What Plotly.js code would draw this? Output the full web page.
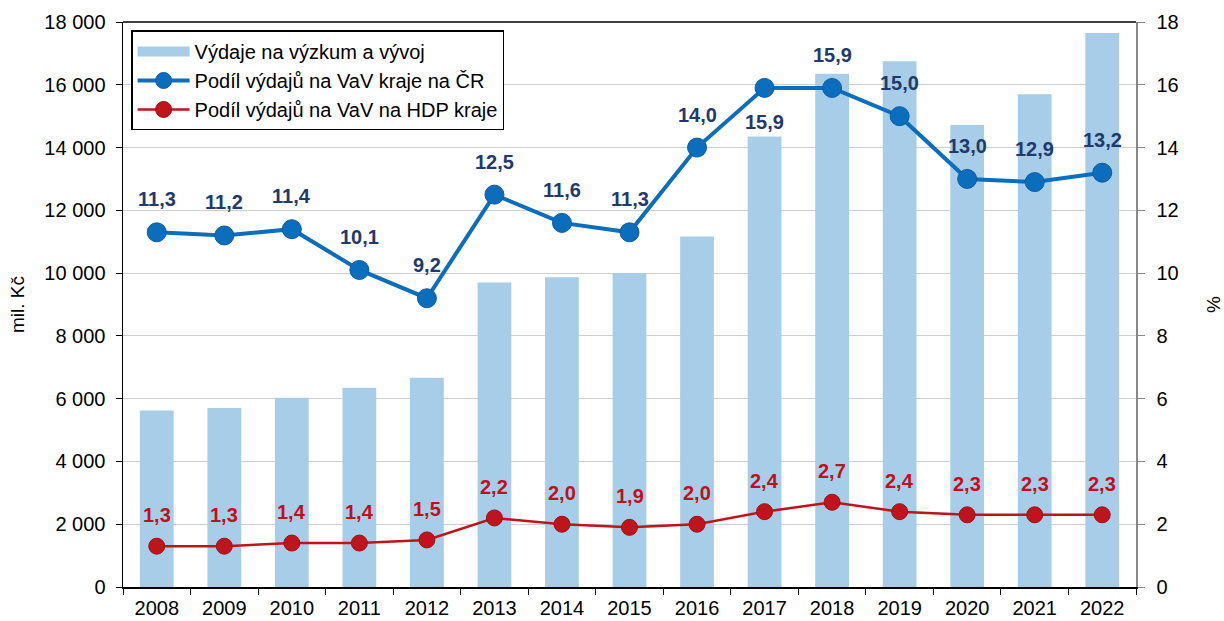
<!DOCTYPE html>
<html><head><meta charset="utf-8">
<script src="https://cdn.plot.ly/plotly-3.0.1.min.js"></script>
<style>body{margin:0}#c{width:1224px;height:621px}</style>
</head><body><div id="c"></div>
<script>
const years = ['2008','2009','2010','2011','2012','2013','2014','2015','2016','2017','2018','2019','2020','2021','2022'];
const spending = [5620,5700,6030,6350,6670,9700,9870,10000,11170,14350,16350,16750,14720,15700,17650];
const shareCR = [11.3,11.2,11.4,10.1,9.2,12.5,11.6,11.3,14.0,15.9,15.9,15.0,13.0,12.9,13.2];
const shareGDP = [1.3,1.3,1.4,1.4,1.5,2.2,2.0,1.9,2.0,2.4,2.7,2.4,2.3,2.3,2.3];
const leftTicks = [0,2000,4000,6000,8000,10000,12000,14000,16000,18000];

const fmt = v => v.toFixed(1).replace('.', ',');
const font = 'Liberation Sans, Arial, sans-serif';
const barColor = '#A7CDE8';

const annotations = [];
years.forEach((y,i) => {
  const below = (y === '2017');
  annotations.push({x:i, y:shareCR[i], xref:'x', yref:'y2', text:'<b>'+fmt(shareCR[i])+'</b>',
    showarrow:false, yshift: below ? -34 : 33, font:{family:font, size:20, color:'#1F3A6B'}});
  annotations.push({x:i, y:shareGDP[i], xref:'x', yref:'y2', text:'<b>'+fmt(shareGDP[i])+'</b>',
    showarrow:false, yshift: 31, font:{family:font, size:20, color:'#C0101A'}});
});

const data = [
  {type:'bar', x:years, y:spending, name:'Výdaje na výzkum a vývoj', marker:{color:barColor}, width:0.5, yaxis:'y', showlegend:false},
  {type:'scatter', mode:'lines', x:[null], y:[null], name:'Výdaje na výzkum a vývoj', yaxis:'y',
    line:{color:barColor, width:10}, showlegend:true},
  {type:'scatter', mode:'lines+markers', x:years, y:shareCR, name:'Podíl výdajů na VaV kraje na ČR', yaxis:'y2',
    line:{color:'#0A6EBD', width:4}, marker:{color:'#0A6EBD', size:19, line:{color:'#0A5CA8', width:1}}},
  {type:'scatter', mode:'lines+markers', x:years, y:shareGDP, name:'Podíl výdajů na VaV na HDP kraje', yaxis:'y2',
    line:{color:'#C0141C', width:2.5}, marker:{color:'#C0141C', size:16, line:{color:'#A01018', width:1}}}
];

const layout = {
  width:1224, height:621,
  margin:{l:123, r:88, t:22, b:34},
  paper_bgcolor:'#fff', plot_bgcolor:'#fff',
  separators:', ',
  font:{family:font, size:20, color:'#000'},
  showlegend:true,
  legend:{x:0.008, y:0.985, xanchor:'left', yanchor:'top', bordercolor:'#000', borderwidth:1.5,
    bgcolor:'#fff', font:{family:font, size:20, color:'#000'}, itemwidth:52, tracegroupgap:0},
  xaxis:{type:'category', range:[-0.5,14.5], tickson:'boundaries', ticks:'outside', ticklen:6, tickcolor:'#000',
    showline:true, linecolor:'#000', linewidth:1.5, mirror:false, tickfont:{size:20}, tickangle:0,
    showgrid:false, zeroline:false, ticklabelstandoff:2},
  yaxis:{range:[0,18000], tickvals:leftTicks, tickformat:',d', ticks:'outside', ticklen:6, tickcolor:'#000',
    showline:true, linecolor:'#000', linewidth:1.5, showgrid:true, gridcolor:'#CFCFCF', gridwidth:1,
    zeroline:false, tickfont:{size:20}, ticklabelstandoff:6,
    title:{text:'mil. Kč', font:{size:19}, standoff:14}},
  yaxis2:{range:[0,18], dtick:2, overlaying:'y', side:'right', ticks:'outside', ticklen:7, tickcolor:'#888',
    showline:true, linecolor:'#888', linewidth:1.5, showgrid:false, zeroline:false, tickfont:{size:20},
    ticklabelstandoff:8,
    title:{text:'%', font:{size:19}, standoff:30}},
  annotations:annotations,
  shapes:[{type:'line', xref:'paper', yref:'paper', x0:0, x1:1, y0:1, y1:1, line:{color:'#000', width:1.5}}]
};

Plotly.newPlot('c', data, layout, {displayModeBar:false, staticPlot:true});
</script></body></html>
